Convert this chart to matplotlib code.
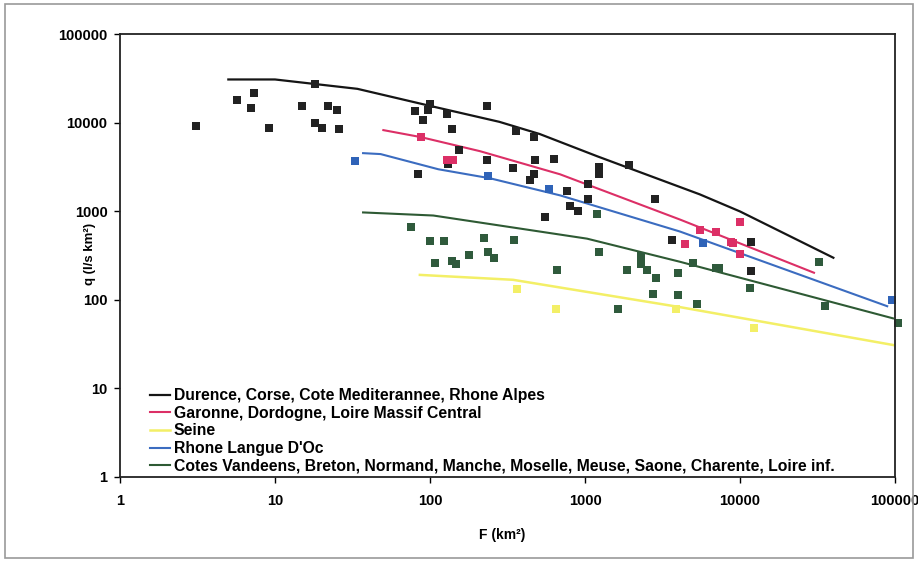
import matplotlib.pyplot as plt
from matplotlib.patches import Rectangle

# 구역별 관측점 (F km2, q l/s/km2)
black_F = [3.1, 5.7, 7.3, 7.0, 9.1, 18, 15, 22, 25, 18, 20, 26, 100, 97, 80, 90, 129, 139, 233, 154,
           359, 469, 233, 476, 631, 343, 469, 442, 84, 131, 1230, 1230, 1920, 766, 1045, 800, 901,
           552, 2830, 1045, 11800, 11800, 3640]
black_q = [9250, 18200, 21900, 14800, 8800, 27700, 15600, 15600, 14000, 10000, 8800, 8550, 16400,
           14000, 13700, 10800, 12700, 8550, 15600, 4930, 8100, 6930, 3800, 3800, 3900, 3080, 2630,
           2250, 2630, 3420, 3160, 2630, 3330, 1690, 1400, 1140, 1000, 877, 1400, 2030, 456, 214, 481]
red_F = [87, 129, 141, 10000, 5520, 7000, 8750, 9000, 10000, 4420]
red_q = [6930, 3800, 3800, 770, 624, 593, 456, 444, 333, 433]
blue_F = [33, 237, 586, 5770, 95700]
blue_q = [3700, 2500, 1780, 444, 100]
green_F = [75, 100, 123, 223, 348, 108, 139, 147, 179, 237, 259, 660, 1195, 1230, 1870, 2300, 2300,
           2510, 2870, 2750, 1630, 3980, 3980, 4980, 7000, 7330, 11600, 5280, 32300, 35300, 104500]
green_q = [675, 468, 460, 507, 481, 263, 277, 257, 325, 351, 300, 219, 925, 351, 219, 316, 257,
           219, 178, 117, 79, 203, 114, 263, 231, 231, 137, 90, 270, 85, 55]
yellow_F = [364, 650, 3870, 12300]
yellow_q = [133, 79, 79, 48]

# 포락선
black_line_F = [5, 10, 34, 100, 280, 510, 1200, 5500, 10000, 40000]
black_line_q = [31000, 31000, 24300, 15600, 10300, 7500, 4200, 1560, 1000, 300]
red_line_F = [50, 87, 210, 690, 4100, 30000]
red_line_q = [8300, 6930, 4800, 2630, 810, 203]
yellow_line_F = [86, 343, 4100, 97000]
yellow_line_q = [192, 169, 83, 31]
blue_line_F = [37, 48, 113, 244, 690, 4100, 89000]
blue_line_q = [4560, 4450, 3000, 2370, 1520, 593, 85]
green_line_F = [37, 105, 1030, 4100, 97000]
green_line_q = [975, 900, 493, 270, 62]

labels = ["Durence, Corse, Cote Mediterannee, Rhone Alpes",
          "Garonne, Dordogne, Loire Massif Central",
          "Seine",
          "Rhone Langue D'Oc",
          "Cotes Vandeens, Breton, Normand, Manche, Moselle, Meuse, Saone, Charente, Loire inf."]
ticks = [1, 10, 100, 1000, 10000, 100000]
tick_labels = ["1", "10", "100", "1000", "10000", "100000"]

plt.rcParams['font.family'] = ['Liberation Sans', 'DejaVu Sans']
plt.rcParams['font.weight'] = 'bold'

fig = plt.figure(figsize=(9.18, 5.63), dpi=100)
fig.patches.append(Rectangle((0.005, 0.008), 0.99, 0.985, transform=fig.transFigure,
                             fill=False, edgecolor='#999999', linewidth=1.2))
ax = fig.add_axes([0.1307, 0.1528, 0.8443, 0.786])

c_black, c_red, c_yellow, c_blue, c_green = '#151515', '#dc2f66', '#f3ef66', '#3b6cc0', '#2e5a34'

ax.plot(black_line_F, black_line_q, color=c_black, lw=1.6, label=labels[0])
ax.plot(red_line_F, red_line_q, color=c_red, lw=1.5, label=labels[1])
ax.plot(yellow_line_F, yellow_line_q, color=c_yellow, lw=1.8, label=labels[2])
ax.plot(blue_line_F, blue_line_q, color=c_blue, lw=1.5, label=labels[3])
ax.plot(green_line_F, green_line_q, color=c_green, lw=1.5, label=labels[4])

ms = 5.2
for F, q, c in [(green_F, green_q, '#2f5a3c'), (yellow_F, yellow_q, c_yellow),
                (black_F, black_q, '#222222'), (red_F, red_q, c_red), (blue_F, blue_q, '#2f63b8')]:
    ax.plot(F, q, 's', color=c, markersize=ms, markeredgewidth=0, clip_on=False)

ax.set_xscale('log')
ax.set_yscale('log')
ax.set_xlim(1, 100000)
ax.set_ylim(1, 100000)
ax.set_xticks(ticks, tick_labels)
ax.set_yticks(ticks, tick_labels)
ax.minorticks_off()
ax.tick_params(labelsize=10.5, length=4, width=1)
ax.tick_params(axis='y', pad=5)
ax.tick_params(axis='x', pad=8)
for s in ax.spines.values():
    s.set_linewidth(1.3)
    s.set_color('#222222')

ax.set_xlabel("F (km²)", fontsize=10, fontweight='bold')
ax.set_ylabel("q (l/s km²)", fontsize=9.5, fontweight='bold')
ax.xaxis.set_label_coords(0.493, -0.115)
ax.yaxis.set_label_coords(-0.031, 0.505)

ax.legend(loc='upper left', bbox_to_anchor=(0.03, 0.215), frameon=False, fontsize=11.3,
          handlelength=1.3, handletextpad=0.25, labelspacing=0.17, borderaxespad=0)

fig.savefig('out.png', dpi=100)
